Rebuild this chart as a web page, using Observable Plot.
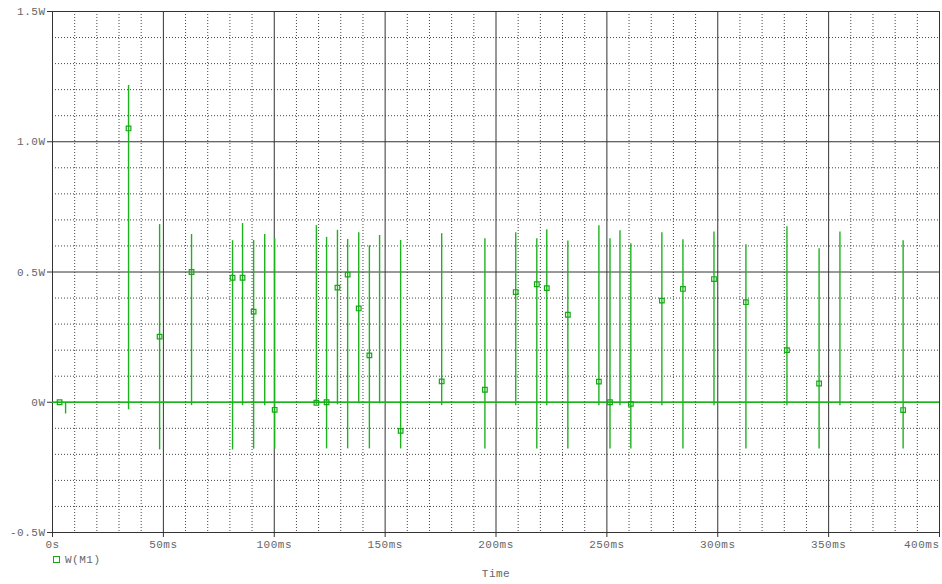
<!DOCTYPE html>
<html>
<head>
<meta charset="utf-8">
<script src="https://cdn.jsdelivr.net/npm/d3@7"></script>
<script src="https://cdn.jsdelivr.net/npm/@observablehq/plot@0.6"></script>
<style>
  html, body { margin: 0; padding: 0; background: #fff; }
  #wrap { width: 942px; height: 584px; position: relative; font-family: "Liberation Mono", "DejaVu Sans Mono", monospace; }
  #legend { height: 15px; display: flex; align-items: center; padding-left: 53px; font-size: 11px; letter-spacing: 0.5px; color: #666; }
  #legend .sw { width: 5px; height: 5px; border: 1.2px solid #14a814; margin-right: 5px; }
  #xlabel { text-align: center; font-size: 11px; letter-spacing: 0.5px; color: #666; padding-left: 50px; margin-top: 1px; }
</style>
</head>
<body>
<div id="wrap">
  <div id="chart"></div>
  <div id="legend"><div class="sw"></div><span>W(M1)</span></div>
  <div id="xlabel">Time</div>
</div>
<script>
// Spike times (ms), peak and trough (W)
const spikeTime = [5.9, 34.3, 48.3, 62.7, 81.2, 85.7, 90.7, 95.7, 100.2, 119.0, 123.6, 128.5, 133.1, 138.1, 142.9, 147.5, 157.0, 175.5, 195.0, 208.9, 218.4, 222.9, 232.4, 246.4, 251.4, 255.9, 260.8, 274.8, 284.3, 298.3, 312.7, 331.2, 345.7, 355.1, 383.6];
const spikeMax  = [0.0, 1.216, 0.682, 0.644, 0.620, 0.686, 0.621, 0.644, 0.628, 0.678, 0.633, 0.660, 0.625, 0.651, 0.601, 0.640, 0.621, 0.647, 0.628, 0.651, 0.628, 0.662, 0.619, 0.678, 0.628, 0.658, 0.608, 0.651, 0.624, 0.654, 0.605, 0.674, 0.589, 0.654, 0.620];
const spikeMin  = [-0.045, -0.029, -0.183, -0.013, -0.183, -0.013, -0.180, -0.013, -0.180, -0.010, -0.179, -0.010, -0.179, -0.006, -0.179, -0.006, -0.179, -0.013, -0.179, -0.013, -0.179, -0.013, -0.179, -0.013, -0.179, -0.013, -0.179, -0.013, -0.179, -0.013, -0.179, -0.013, -0.179, -0.013, -0.179];

// Marker samples on the W(M1) trace
const markerTime  = [3.2, 34.3, 48.3, 62.7, 81.2, 85.7, 90.7, 100.2, 119.0, 123.6, 128.5, 133.1, 138.1, 142.9, 157.0, 175.5, 195.0, 208.9, 218.4, 222.9, 232.4, 246.4, 251.4, 260.8, 274.8, 284.3, 298.3, 312.7, 331.2, 345.7, 383.6];
const markerValue = [0.0, 1.051, 0.252, 0.500, 0.478, 0.478, 0.348, -0.029, -0.002, 0.0, 0.440, 0.490, 0.360, 0.180, -0.110, 0.080, 0.048, 0.423, 0.453, 0.438, 0.336, 0.079, 0.0, -0.006, 0.390, 0.435, 0.473, 0.384, 0.200, 0.072, -0.030];

// Axis ticks
const xTicks = [0, 50, 100, 150, 200, 250, 300, 350, 400];
const xTickLabels = ["0s", "50ms", "100ms", "150ms", "200ms", "250ms", "300ms", "350ms", "400ms"];
const yTicks = [-0.5, 0, 0.5, 1.0, 1.5];
const yTickLabels = ["-0.5W", "0W", "0.5W", "1.0W", "1.5W"];

const spikes = spikeTime.map((t, i) => ({t, hi: spikeMax[i], lo: spikeMin[i]}));
const markers = markerTime.map((t, i) => ({t, v: markerValue[i]}));

const minorX = d3.range(0, 401, 10).filter(v => v % 50 !== 0);
const minorY = d3.range(-5, 16, 1).map(v => v / 10).filter(v => Math.abs(v * 2 - Math.round(v * 2)) > 1e-6);

const green = "#1db31d";
const font = "Liberation Mono, DejaVu Sans Mono, monospace";
const xLabel = d => xTickLabels[xTicks.indexOf(d)];

const chart = Plot.plot({
  width: 942,
  height: 552,
  marginLeft: 52,
  marginRight: 3,
  marginTop: 11,
  marginBottom: 20,
  style: {fontFamily: font, fontSize: "11px", letterSpacing: "0.5px", color: "#666", background: "#fff"},
  x: {domain: [0, 400]},
  y: {domain: [-0.5, 1.5]},
  marks: [
    Plot.ruleX(minorX, {stroke: "#444", strokeDasharray: "1,2", strokeWidth: 1}),
    Plot.ruleY(minorY, {stroke: "#444", strokeDasharray: "1,2", strokeWidth: 1}),
    Plot.ruleX(xTicks, {stroke: "#333", strokeWidth: 1}),
    Plot.ruleY(yTicks, {stroke: "#333", strokeWidth: 1}),
    Plot.frame({stroke: "#333"}),
    Plot.ruleY([0], {stroke: green, strokeWidth: 1.5}),
    Plot.ruleX(spikes, {x: "t", y1: "lo", y2: "hi", stroke: green, strokeWidth: 1.4}),
    Plot.dot(markers, {x: "t", y: "v", symbol: "square", r: 2.6, stroke: "#14a814", strokeWidth: 1.2, fill: "none"}),
    Plot.axisX({ticks: xTicks, tickFormat: () => "", tickSize: 5, label: null, stroke: "#333"}),
    Plot.axisX({ticks: xTicks.slice(0, -1), tickFormat: xLabel, tickSize: 0, tickPadding: 8, label: null, fill: "#666"}),
    Plot.axisX({ticks: xTicks.slice(-1), tickFormat: xLabel, tickSize: 0, tickPadding: 8, textAnchor: "end", label: null, fill: "#666"}),
    Plot.axisY({ticks: yTicks, tickFormat: d => yTickLabels[yTicks.indexOf(d)], tickSize: 5, tickPadding: 2, label: null, stroke: "#333", fill: "#666"})
  ]
});
document.getElementById("chart").appendChild(chart);
</script>
</body>
</html>
